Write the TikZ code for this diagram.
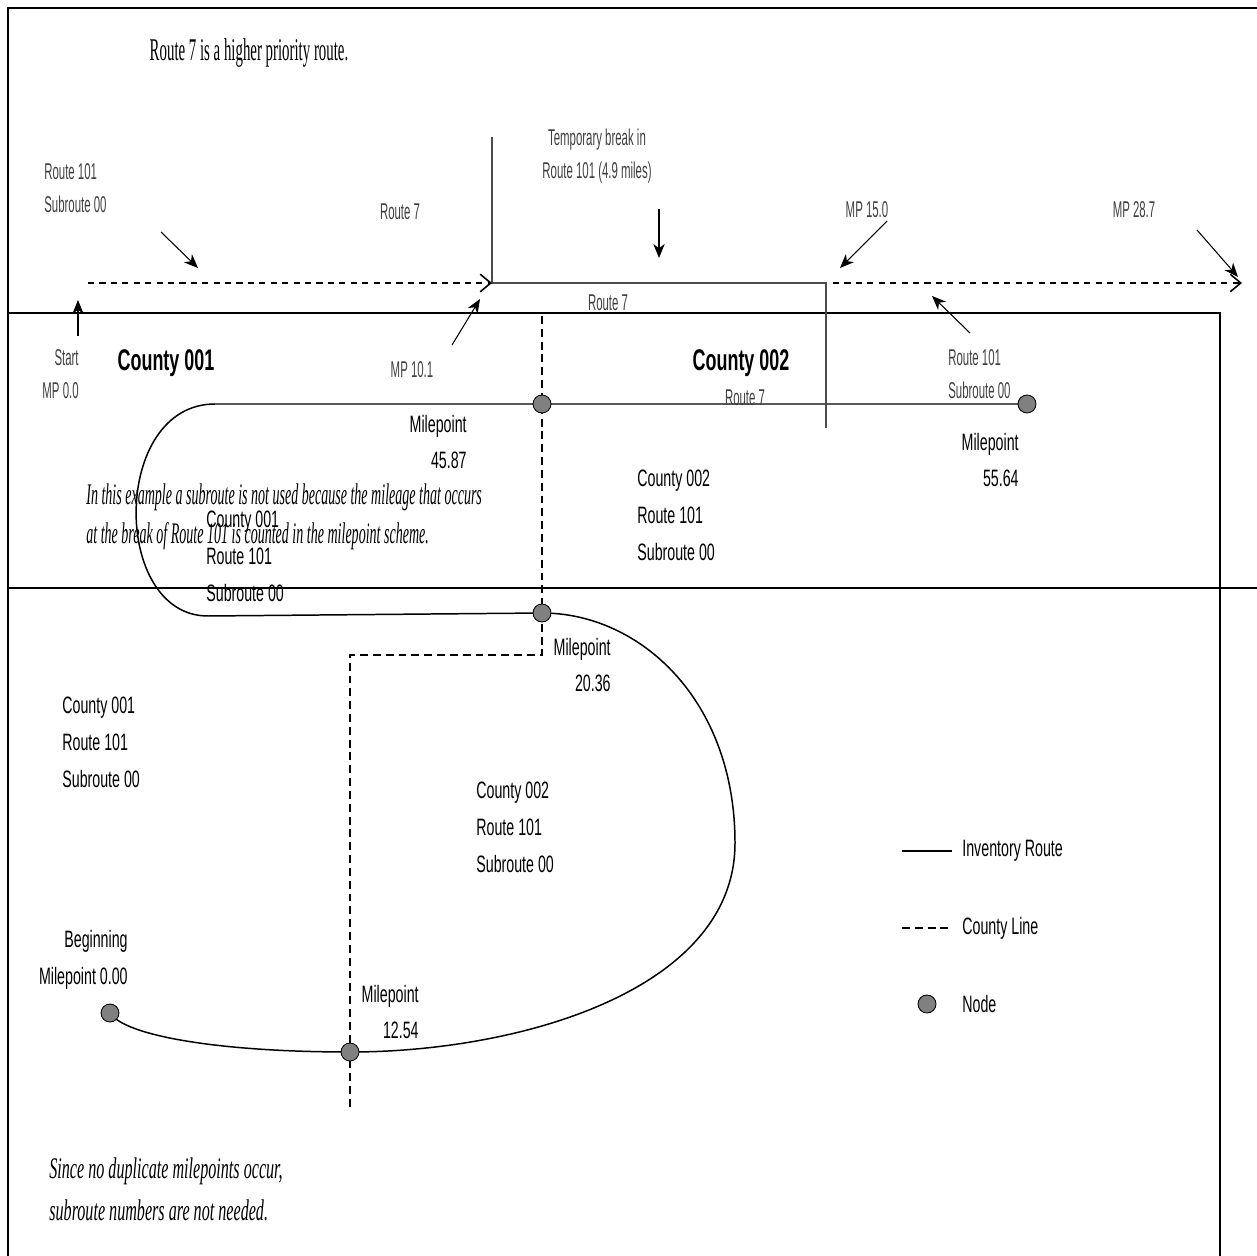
\documentclass[tikz,border=0pt]{standalone}
\usepackage{fontspec}
\usepackage{tikz}
\usetikzlibrary{arrows.meta,backgrounds,positioning}
\newfontfamily\lblfont{Liberation Sans}[FakeStretch=0.6]
\newfontfamily\thinfont{Liberation Sans}[FakeStretch=0.5]
\newfontfamily\notefont{Liberation Serif}[FakeStretch=0.47]
\newfontfamily\widenotefont{Liberation Serif}[FakeStretch=0.54]

\begin{document}
\begin{tikzpicture}[x=0.02cm, y=-0.02cm]
            \tikzstyle{frame} = [line width=1.2pt, draw=black]
            \tikzstyle{route} = [line width=0.85pt, draw=black]
            \tikzstyle{routeseven} = [line width=1.1pt, draw=black!70]
            \tikzstyle{countyline} = [line width=0.8pt, dash pattern=on 4.5pt off 2.8pt]
            \tikzstyle{gapline} = [line width=0.9pt, dash pattern=on 3.5pt off 3pt, -{Straight Barb[length=6pt, width=10pt]}]
            \tikzstyle{pointer} = [line width=0.6pt, -{Stealth[length=8pt, width=6.5pt, inset=2.5pt]}]
            \tikzstyle{mpnode} = [circle, draw=black, fill=black!50, line width=0.5pt, minimum size=0.36cm, inner sep=0pt]
            \tikzstyle{lbl} = [inner sep=0pt, font=\lblfont\fontsize{13.5}{21}\selectfont]
            \tikzstyle{thinlbl} = [inner sep=0pt, text=black!75, font=\thinfont\fontsize{13}{18.5}\selectfont]
            \tikzstyle{county} = [inner sep=0pt, font=\lblfont\bfseries\fontsize{17}{20}\selectfont]
            \tikzstyle{note} = [inner sep=0pt, align=left, font=\notefont\itshape\fontsize{17}{22}\selectfont]

            \useasboundingbox (0,0) rectangle (1257,1256);

            % frame
            \draw[frame] (8,1256) -- (8,8) -- (1257,8);
            \draw[frame] (8,313) -- (1220,313) -- (1220,1256);
            \draw[frame] (8,588) -- (1257,588);

            % milepoint nodes
            \node[mpnode] (mp4587) at (542,404) {};
            \node[mpnode] (mp5564) at (1027,404) {};
            \node[mpnode] (mp2036) at (542,613) {};
            \node[mpnode] (mp1254) at (350,1052) {};
            \node[mpnode] (mp000) at (110,1013) {};

            \begin{scope}[on background layer]
            % county lines
            \draw[countyline] (542,316) -- (mp4587.center) -- (mp2036.center) -- (542,655) -- (350,655) -- (mp1254.center) -- (350,1110);
            % route 101
            \draw[route] (mp000.center) .. controls (125,1036) and (220,1052) .. (mp1254.center)
                .. controls (520,1052) and (735,990) .. (735,843)
                .. controls (735,700) and (640,613) .. (mp2036.center)
                -- (208,616) .. controls (111,616) and (111,404) .. (215,404)
                -- (mp4587.center) -- (mp5564.center);
            \end{scope}

            % route 7 and the break in route 101
            \coordinate (r7top) at (492,137);
            \coordinate (r7in) at (492,283);
            \coordinate (r7out) at (826,283);
            \coordinate (r7low) at (826,428);
            \coordinate (gapstart) at (88,283);
            \coordinate (gapend) at (1242,283);
            \draw[routeseven] (r7top) -- (r7in) -- (r7out) -- (r7low);
            \draw[gapline] (gapstart) -- (r7in);
            \draw[gapline] ([xshift=4]r7out) -- (gapend);

            % labels up top
            \node[inner sep=0pt, font=\notefont\fontsize{18}{22}\selectfont] (priority) at (249,53) {Route 7 is a higher priority route.};
            \node[thinlbl, align=left, anchor=west] (r101a) at (44,188) {Route 101\\Subroute 00};
            \node[thinlbl] (r7a) at (400,212) {Route 7};
            \node[thinlbl, align=center] (tbreak) at (597,156) {Temporary break in\\Route 101 (4.9 miles)};
            \node[thinlbl] (mp150) at (867,210) {MP 15.0};
            \node[thinlbl] (mp287) at (1134,210) {MP 28.7};
            \node[thinlbl] (r7b) at (608,303) {Route 7};
            \node[thinlbl, align=right, anchor=east] (start) at (79,374) {Start\\MP 0.0};
            \node[thinlbl] (mp101) at (412,370) {MP 10.1};
            \node[thinlbl] (r7c) at (745,398) {Route 7};
            \node[thinlbl, align=left, anchor=west] (r101b) at (948,374) {Route 101\\Subroute 00};
            \node[county] (c001) at (166,363) {County 001};
            \node[county] (c002) at (741,363) {County 002};

            % pointers
            \coordinate (p1s) at (161,232); \coordinate (p1e) at (198,268);
            \coordinate (p2s) at (659,209); \coordinate (p2e) at (659,258);
            \coordinate (p3s) at (887,221); \coordinate (p3e) at (840,268);
            \coordinate (p4s) at (1197,230); \coordinate (p4e) at (1238,277);
            \coordinate (p5s) at (78,336); \coordinate (p5e) at (78,300);
            \coordinate (p6s) at (452,345); \coordinate (p6e) at (480,299);
            \coordinate (p7s) at (970,333); \coordinate (p7e) at (932,296);
            \foreach \s/\e in {p1s/p1e, p2s/p2e, p3s/p3e, p4s/p4e, p5s/p5e, p6s/p6e, p7s/p7e}
                \draw[pointer] (\s) -- (\e);

            % milepoint and county labels
            \node[lbl, align=right, anchor=east] (l4587) at (467,442) {Milepoint\\45.87};
            \node[lbl, align=right, anchor=east] (l5564) at (1019,460) {Milepoint\\55.64};
            \node[lbl, align=left, anchor=west] (c002a) at (637,515) {County 002\\Route 101\\Subroute 00};
            \node[lbl, align=left, anchor=west] (c001a) at (206,556) {County 001\\Route 101\\Subroute 00};
            \node[lbl, align=right, anchor=east] (l2036) at (611,665) {Milepoint\\20.36};
            \node[lbl, align=left, anchor=west] (c001b) at (62,742) {County 001\\Route 101\\Subroute 00};
            \node[lbl, align=left, anchor=west] (c002b) at (476,827) {County 002\\Route 101\\Subroute 00};
            \node[lbl, align=right, anchor=east] (l000) at (128,960) {Beginning\\Milepoint 0.00};
            \node[lbl, align=right, anchor=east] (l1254) at (419,1012) {Milepoint\\12.54};

            % notes
            \node[note, anchor=west] (note1) at (86,517) {In this example a subroute is not used because the mileage that occurs\\at the break of Route 101 is counted in the milepoint scheme.};
            \node[note, anchor=west, font=\widenotefont\itshape\fontsize{17}{24}\selectfont] (note2) at (49,1189) {Since no duplicate milepoints occur,\\subroute numbers are not needed.};

            % legend
            \coordinate (k1s) at (902,851); \coordinate (k1e) at (952,851);
            \coordinate (k2s) at (902,928); \coordinate (k2e) at (952,928);
            \draw[line width=0.8pt] (k1s) -- (k1e);
            \draw[countyline] (k2s) -- (k2e);
            \node[mpnode] (knode) at (927,1004) {};
            \node[lbl, anchor=west] (kroute) at (962,851) {Inventory Route};
            \node[lbl, anchor=west] (kline) at (962,928) {County Line};
            \node[lbl, anchor=west] (knodetxt) at (962,1004) {Node};
\end{tikzpicture}
\end{document}
